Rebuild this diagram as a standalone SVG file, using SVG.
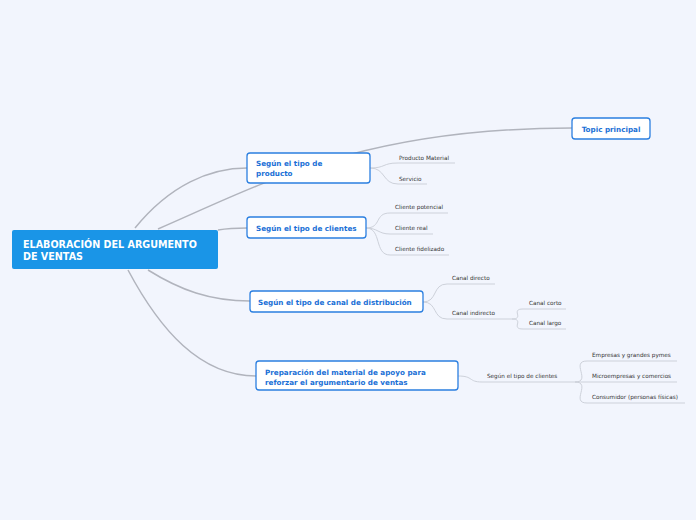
<svg xmlns="http://www.w3.org/2000/svg" width="696" height="520" viewBox="0 0 696 520">
<style>
.main{fill:none;stroke:#b1b4bd;stroke-width:1.5}
.sub{fill:none;stroke:#cdd1da;stroke-width:1}
.box{fill:#ffffff;stroke:#2b7fe0;stroke-width:1.3}
.t{font-family:"DejaVu Sans",Verdana,sans-serif;font-weight:bold;font-size:7.2px;fill:#1a70d6}
.s{font-family:"DejaVu Sans",Verdana,sans-serif;font-size:5.7px;fill:#333333}
.c{font-family:"DejaVu Sans",Verdana,sans-serif;font-weight:bold;font-size:9.6px;fill:#ffffff}
</style>
<rect width="696" height="520" fill="#f2f5fd"/>
<g id="connectors">
<path class="main" d="M135,228 C170,185 210,168 247,168"/>
<path class="main" d="M158,229 C260,185 360,128 572,128"/>
<path class="main" d="M218,230 C230,228 235,228 247,228"/>
<path class="main" d="M148,270 C180,290 210,301 250,301"/>
<path class="main" d="M128,270 C160,330 200,376 256,376"/>
<path class="sub" d="M370,168 C386,168 382,163 398,163 L455,163"/>
<path class="sub" d="M370,168 C386,168 382,184 398,184 L427,184"/>
<path class="sub" d="M366,228 C382,228 374,213 390,213 L448,213"/>
<path class="sub" d="M366,228 C378,228 378,234 390,234 L433,234"/>
<path class="sub" d="M366,228 C382,228 374,255 390,255 L449,255"/>
<path class="sub" d="M423,302 C438,302 432,284 447,284 L495,284"/>
<path class="sub" d="M423,302 C438,302 432,319 447,319 L512,319"/>
<path class="sub" d="M512,319 C525,319 510,309 523,309 L566,309"/>
<path class="sub" d="M512,319 C525,319 510,329 523,329 L566,329"/>
<path class="sub" d="M458,376 C474,376 468,382 482,382 L575,382"/>
<path class="sub" d="M575,382 C592,382 570,361 587,361 L677,361"/>
<path class="sub" d="M575,382 L677,382"/>
<path class="sub" d="M575,382 C592,382 570,403 587,403 L685,403"/>
</g>
<g id="central">
<rect x="12" y="230" width="206" height="39" rx="2" fill="#1a95e7"/>
<text class="c" x="23" y="248">ELABORACIÓN DEL ARGUMENTO</text>
<text class="c" x="23" y="260">DE VENTAS</text>
</g>
<g id="topic-principal">
<rect class="box" x="572" y="118" width="78" height="21" rx="3"/>
<text class="t" x="611" y="131.5" text-anchor="middle">Topic principal</text>
</g>
<g id="n-producto">
<rect class="box" x="247" y="153" width="123" height="30" rx="3"/>
<text class="t" x="256" y="166">Según el tipo de</text>
<text class="t" x="256" y="176">producto</text>
</g>
<g id="n-clientes">
<rect class="box" x="247" y="217" width="119" height="21" rx="3"/>
<text class="t" x="256" y="231">Según el tipo de clientes</text>
</g>
<g id="n-canal">
<rect class="box" x="250" y="291" width="173" height="21" rx="3"/>
<text class="t" x="258" y="305">Según el tipo de canal de distribución</text>
</g>
<g id="n-material">
<rect class="box" x="256" y="361" width="202" height="29" rx="3"/>
<text class="t" x="265" y="375">Preparación del material de apoyo para</text>
<text class="t" x="265" y="385">reforzar el argumentario de ventas</text>
</g>
<g id="leaf-producto-material"><text class="s" x="399" y="160">Producto Material</text></g>
<g id="leaf-servicio"><text class="s" x="399" y="181">Servicio</text></g>
<g id="leaf-cliente-potencial"><text class="s" x="395" y="209">Cliente potencial</text></g>
<g id="leaf-cliente-real"><text class="s" x="395" y="230">Cliente real</text></g>
<g id="leaf-cliente-fidelizado"><text class="s" x="395" y="251">Cliente fidelizado</text></g>
<g id="leaf-canal-directo"><text class="s" x="452" y="280">Canal directo</text></g>
<g id="leaf-canal-indirecto"><text class="s" x="452" y="315">Canal indirecto</text></g>
<g id="leaf-canal-corto"><text class="s" x="529" y="305">Canal corto</text></g>
<g id="leaf-canal-largo"><text class="s" x="529" y="325">Canal largo</text></g>
<g id="leaf-segun-clientes"><text class="s" x="487" y="378">Según el tipo de clientes</text></g>
<g id="leaf-empresas"><text class="s" x="592" y="357">Empresas y grandes pymes</text></g>
<g id="leaf-micro"><text class="s" x="592" y="378">Microempresas y comercios</text></g>
<g id="leaf-consumidor"><text class="s" x="592" y="399">Consumidor (personas físicas)</text></g>
</svg>
